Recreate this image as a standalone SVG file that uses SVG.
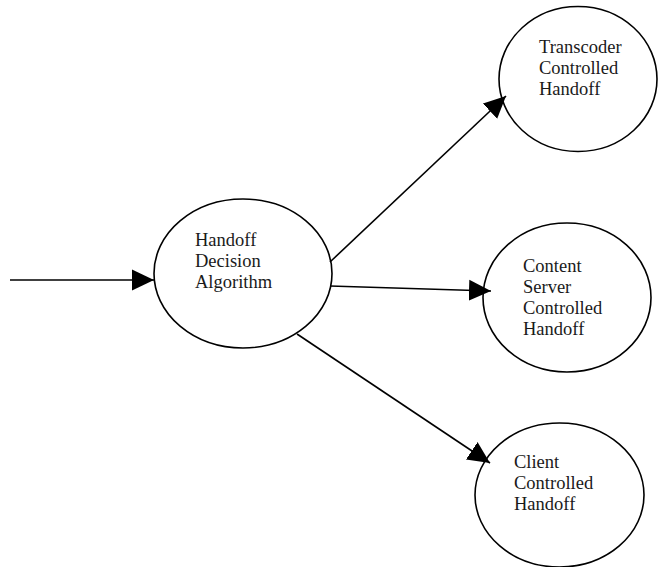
<svg xmlns="http://www.w3.org/2000/svg" width="659" height="567" viewBox="0 0 659 567">
<style>
.node ellipse{fill:#fff;stroke:#000;stroke-width:1.6}
.node text{font-family:"Liberation Serif","Times New Roman",serif;font-size:18.5px;fill:#1a1a1a}
.edge{stroke:#000;stroke-width:1.6;fill:none;marker-end:url(#arr)}
</style>
<defs>
<marker id="arr" markerUnits="userSpaceOnUse" markerWidth="22" markerHeight="22" viewBox="0 0 20 20" refX="20" refY="10" orient="auto">
<path d="M0,0.5 L20,10 L0,19.5 Z" fill="#000"/>
</marker>
</defs>
<rect width="659" height="567" fill="#fff"/>
<g id="n-handoff" class="node">
<ellipse cx="243" cy="273.5" rx="89" ry="74.5"/>
<text x="195" y="246">Handoff</text>
<text x="195" y="267">Decision</text>
<text x="195" y="288">Algorithm</text>
</g>
<g id="n-transcoder" class="node">
<ellipse cx="578" cy="79" rx="79" ry="72.5"/>
<text x="539" y="53">Transcoder</text>
<text x="539" y="74">Controlled</text>
<text x="539" y="95">Handoff</text>
</g>
<g id="n-content" class="node">
<ellipse cx="567" cy="297.5" rx="84" ry="74.5"/>
<text x="523" y="272">Content</text>
<text x="523" y="293">Server</text>
<text x="523" y="314">Controlled</text>
<text x="523" y="335">Handoff</text>
</g>
<g id="n-client" class="node">
<ellipse cx="559.5" cy="495" rx="84.5" ry="72"/>
<text x="514" y="468">Client</text>
<text x="514" y="489">Controlled</text>
<text x="514" y="510">Handoff</text>
</g>
<g id="connectors">
<line class="edge" x1="10" y1="280" x2="154" y2="280"/>
<line class="edge" x1="330" y1="262" x2="506" y2="96"/>
<line class="edge" x1="330" y1="286" x2="491" y2="291"/>
<line class="edge" x1="297" y1="334" x2="490" y2="463"/>
</g>
</svg>
